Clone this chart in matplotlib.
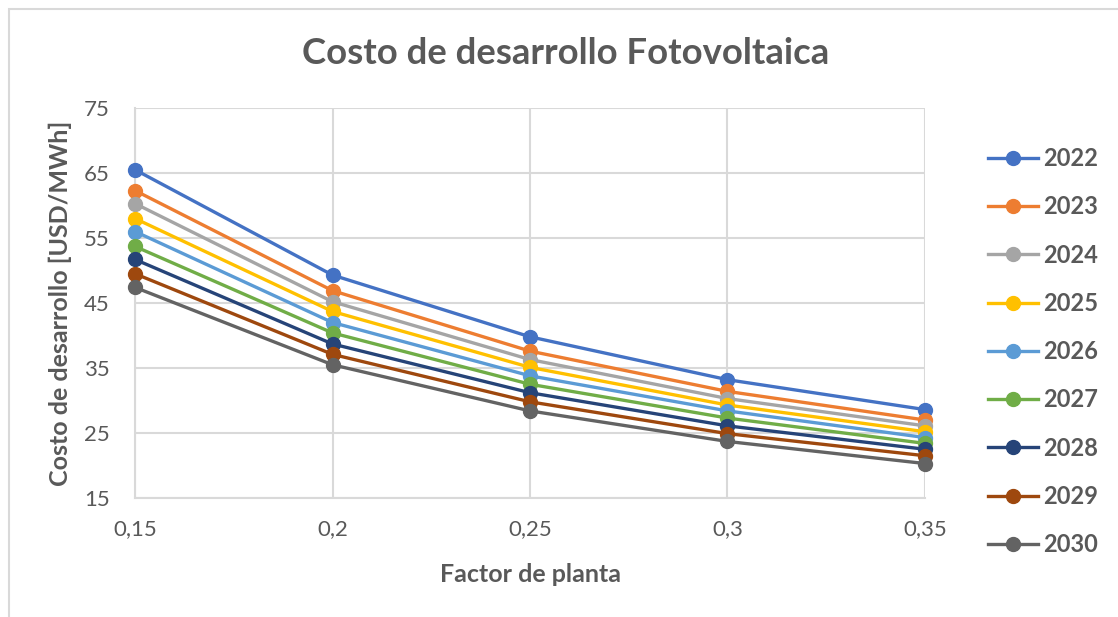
import matplotlib.pyplot as plt
from matplotlib.patches import Rectangle

# valores
factor_planta = ["0,15", "0,2", "0,25", "0,3", "0,35"]
anios = ["2022", "2023", "2024", "2025", "2026", "2027", "2028", "2029", "2030"]

c2022 = [65.5, 49.3, 39.8, 33.2, 28.6]
c2023 = [62.3, 46.9, 37.6, 31.4, 27.0]
c2024 = [60.3, 45.2, 36.3, 30.3, 26.1]
c2025 = [58.0, 43.7, 35.1, 29.3, 25.2]
c2026 = [56.0, 42.0, 33.8, 28.4, 24.3]
c2027 = [53.7, 40.4, 32.5, 27.3, 23.4]
c2028 = [51.7, 38.7, 31.2, 26.1, 22.5]
c2029 = [49.5, 37.1, 29.8, 24.9, 21.5]
c2030 = [47.4, 35.5, 28.4, 23.7, 20.3]

series = [c2022, c2023, c2024, c2025, c2026, c2027, c2028, c2029, c2030]
colores = ["#4472C4", "#ED7D31", "#A5A5A5", "#FFC000", "#5B9BD5",
           "#70AD47", "#264478", "#9E480E", "#636363"]

gris_texto = "#595959"
gris_linea = "#D9D9D9"

plt.rcParams["font.family"] = ["Lato", "DejaVu Sans"]

fig = plt.figure(figsize=(11.18, 6.17), dpi=100)
W, H = 1118, 617
ax = fig.add_axes([135 / W, 1 - 498 / H, 790 / W, 390 / H])

x = range(len(factor_planta))
for vals, anio, col in zip(series, anios, colores):
    ax.plot(x, vals, color=col, lw=2.4, marker="o", ms=10, label=anio,
            clip_on=False, zorder=3)

ax.set_xlim(0, len(factor_planta) - 1)
ax.set_ylim(15, 75)
ax.set_yticks([15, 25, 35, 45, 55, 65, 75])
ax.set_xticks(list(x))
ax.set_xticklabels(factor_planta)
ax.grid(True, color=gris_linea, lw=1.5)
ax.set_axisbelow(True)
for s in ax.spines.values():
    s.set_visible(False)
for lado in ["left", "bottom"]:
    ax.spines[lado].set_visible(True)
    ax.spines[lado].set_color(gris_linea)
    ax.spines[lado].set_linewidth(1.5)
ax.tick_params(axis="both", length=0, labelsize=16, labelcolor=gris_texto)
ax.tick_params(axis="x", pad=15)
ax.tick_params(axis="y", pad=18)

fig.text(566 / W, 1 - 53 / H, "Costo de desarrollo Fotovoltaica",
         ha="center", va="center", fontsize=26.3, fontweight="bold",
         color=gris_texto)
fig.text(530 / W, 1 - 575 / H, "Factor de planta", ha="center", va="center",
         fontsize=18, fontweight="bold", color=gris_texto)
fig.text(60 / W, 1 - 303 / H, "Costo de desarrollo [USD/MWh]", ha="center",
         va="center", rotation=90, fontsize=18, fontweight="bold",
         color=gris_texto)

leg = ax.legend(loc="upper left", bbox_to_anchor=(988 / W, 1 - 147 / H),
                bbox_transform=fig.transFigure, frameon=False, fontsize=17,
                handlelength=2.12, handletextpad=0.21, labelspacing=1.07,
                borderpad=0, borderaxespad=0)
for t in leg.get_texts():
    t.set_fontweight("bold")
    t.set_color(gris_texto)

# borde del area del grafico
fig.patches.append(Rectangle((9 / W, -0.1), 1.2, 1 - 9 / H + 0.1,
                             transform=fig.transFigure, fill=False,
                             edgecolor=gris_linea, lw=1.5))

fig.savefig("out.png", dpi=100)
